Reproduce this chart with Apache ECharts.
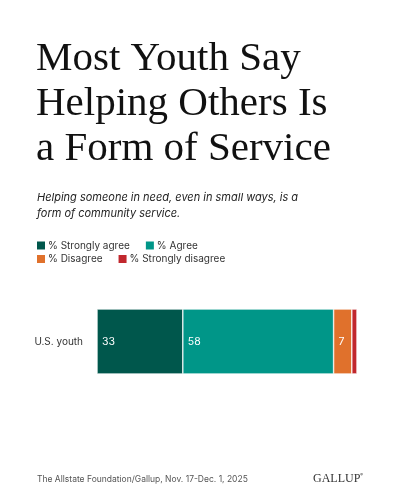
<!DOCTYPE html>
<html lang="en">
<head>
    <meta charset="UTF-8">
    <title>Most Youth Say Helping Others Is a Form of Service</title>
    <script src="https://cdn.jsdelivr.net/npm/echarts@6/dist/echarts.min.js"></script>
    <style>
        html, body { margin: 0; padding: 0; background: #fff; }
        #main { width: 400px; height: 500px; }
    </style>
</head>
<body>
    <div id="main"></div>
    <script>
        // data
        var categories = ['U.S. youth'];
        var seriesNames = ['% Strongly agree', '% Agree', '% Disagree', '% Strongly disagree'];
        var stronglyAgree = [33];
        var agree = [58];
        var disagree = [7];
        var stronglyDisagree = [2];
        var colors = ['#00574c', '#009688', '#e0712c', '#c1272d'];

        var sans = 'Inter, "Noto Sans", sans-serif';
        var serif = '"Liberation Serif", serif';
        var myChart = echarts.init(document.getElementById('main'));

        function seg(name, data, color, showLabel) {
            return {
                name: name,
                type: 'bar',
                stack: 'total',
                barWidth: '100%',
                data: data,
                itemStyle: { color: color, borderColor: '#fff', borderWidth: 0.6 },
                label: {
                    show: showLabel,
                    position: 'insideLeft',
                    distance: 5,
                    color: '#fff',
                    fontFamily: sans,
                    fontSize: 10.5
                },
                emphasis: { disabled: true }
            };
        }

        function legendRow(names, top) {
            return {
                data: names,
                left: 37,
                top: top,
                padding: 0,
                itemWidth: 8,
                itemHeight: 8,
                itemGap: 16,
                icon: 'rect',
                selectedMode: false,
                itemStyle: { borderWidth: 0 },
                textStyle: { fontFamily: sans, fontSize: 10, lineHeight: 12, color: '#333', padding: [0, 0, 0, -2] }
            };
        }

        var option = {
            animation: false,
            title: [
                {
                    text: 'Most Youth Say\nHelping Others Is\na Form of Service',
                    left: 36,
                    top: 37,
                    padding: 0,
                    textStyle: {
                        fontFamily: serif,
                        fontWeight: 'normal',
                        fontSize: 41,
                        lineHeight: 45,
                        color: '#111'
                    }
                },
                {
                    text: 'Helping someone in need, even in small ways, is a\nform of community service.',
                    left: 37,
                    top: 189,
                    padding: 0,
                    textStyle: {
                        fontFamily: sans,
                        fontStyle: 'italic',
                        fontWeight: 'normal',
                        fontSize: 11,
                        lineHeight: 16.5,
                        color: '#222'
                    }
                },
                {
                    text: 'The Allstate Foundation/Gallup, Nov. 17-Dec. 1, 2025',
                    left: 37,
                    top: 475,
                    padding: 0,
                    textStyle: {
                        fontFamily: sans,
                        fontWeight: 'normal',
                        fontSize: 8.5,
                        color: '#555'
                    }
                },
                {
                    text: 'GALLUP{r|®}',
                    left: 313,
                    top: 472.5,
                    padding: 0,
                    textStyle: {
                        fontFamily: serif,
                        fontWeight: 'normal',
                        fontSize: 12,
                        color: '#333',
                        rich: {
                            r: { fontFamily: sans, fontSize: 4, color: '#333', verticalAlign: 'top', padding: [0, 0, 6, 0] }
                        }
                    }
                }
            ],
            legend: [
                legendRow(seriesNames.slice(0, 2), 239.5),
                legendRow(seriesNames.slice(2, 4), 253)
            ],
            grid: {
                left: 97,
                right: 43,
                top: 309,
                height: 65
            },
            xAxis: {
                type: 'value',
                min: 0,
                max: 100,
                show: false
            },
            yAxis: {
                type: 'category',
                data: categories,
                axisLine: { show: false },
                axisTick: { show: false },
                axisLabel: {
                    fontFamily: sans,
                    fontSize: 10,
                    color: '#333',
                    margin: 14
                }
            },
            series: [
                seg(seriesNames[0], stronglyAgree, colors[0], true),
                seg(seriesNames[1], agree, colors[1], true),
                seg(seriesNames[2], disagree, colors[2], true),
                seg(seriesNames[3], stronglyDisagree, colors[3], false)
            ]
        };

        myChart.setOption(option);
    </script>
</body>
</html>
